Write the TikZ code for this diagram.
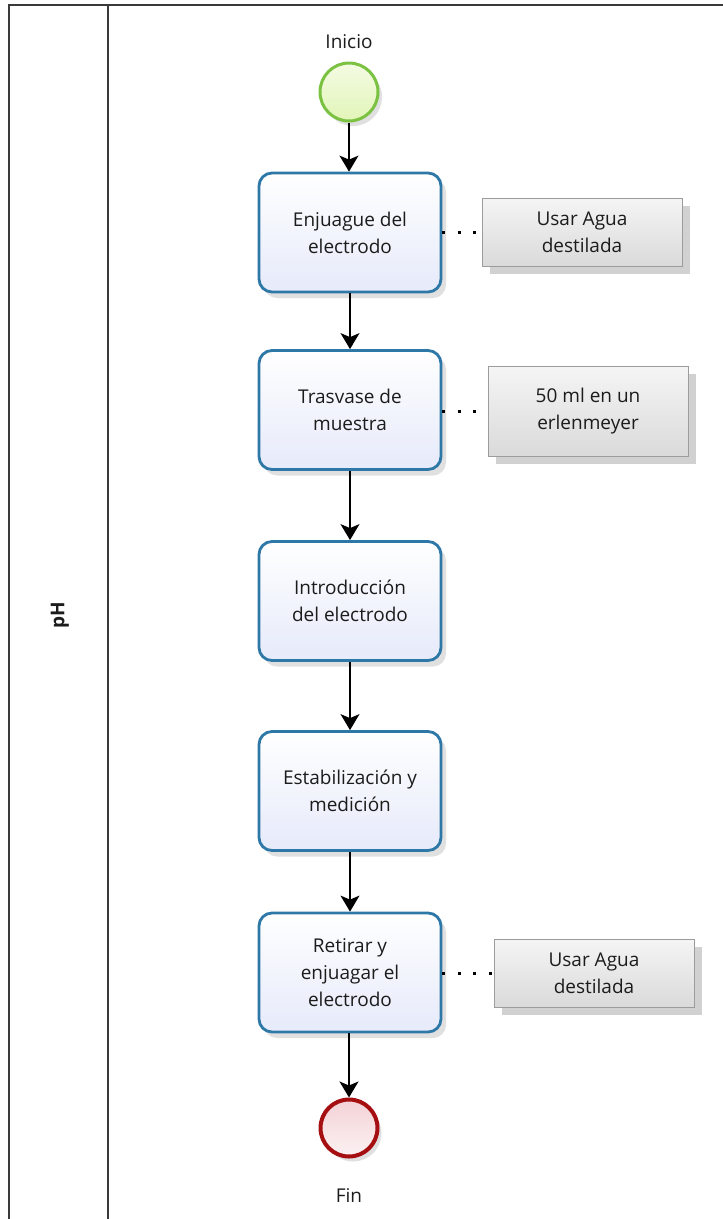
\documentclass[tikz,border=0pt]{standalone}
\usepackage{fontspec}
\setmainfont{Open Sans}
\usetikzlibrary{arrows.meta,shadows}
\definecolor{taskborder}{HTML}{2E78A8}
\definecolor{taskfill}{HTML}{E6EAFA}
\definecolor{startborder}{HTML}{7CC242}
\definecolor{startfill}{HTML}{E2F5B8}
\definecolor{endborder}{HTML}{A50F12}
\definecolor{endfill}{HTML}{F3D2D6}
\definecolor{annborder}{HTML}{9C9C9C}
\definecolor{annfill}{HTML}{DADADA}
\definecolor{framecol}{HTML}{3A3A3A}
\definecolor{txt}{HTML}{1C1C1C}
\begin{document}
\begin{tikzpicture}[x=1pt,y=-1pt,
  every node/.style={text=txt},
  lbl/.style={font=\fontsize{19}{24}\selectfont, inner sep=0pt},
  task/.style={draw=taskborder, line width=2.8pt, rounded corners=13pt,
    minimum width=182pt, minimum height=119pt, align=center,
    top color=white, bottom color=taskfill,
    font=\fontsize{19}{27}\selectfont,
    drop shadow={shadow xshift=5pt, shadow yshift=-6pt, opacity=0.12, fill=black}},
  annot/.style={draw=annborder, line width=0.8pt,
    minimum width=200pt, align=center,
    top color=white!96!black, bottom color=annfill,
    font=\fontsize{19}{27}\selectfont,
    drop shadow={shadow xshift=8pt, shadow yshift=-8pt, opacity=0.18, fill=black}},
  startev/.style={circle, draw=startborder, line width=3pt, minimum size=58pt,
    inner sep=0pt, top color=white!60!startfill, bottom color=startfill,
    drop shadow={shadow xshift=4pt, shadow yshift=-5pt, opacity=0.12, fill=black}},
  endev/.style={circle, draw=endborder, line width=4pt, minimum size=57pt,
    inner sep=0pt, top color=endfill, bottom color=white!70!endfill,
    drop shadow={shadow xshift=4pt, shadow yshift=-5pt, opacity=0.12, fill=black}},
  flow/.style={draw=black, line width=1.6pt,
    -{Stealth[length=16pt, width=19pt, inset=4pt]}},
  assoc/.style={draw=black, line width=3pt, dash pattern=on 3pt off 12.5pt},
  frame/.style={draw=framecol, line width=1.8pt}
]
\useasboundingbox (0,0) rectangle (723,1219);
\fill[white] (0,0) rectangle (723,1219);

% pool / lane frame
\draw[frame] (9,1220) -- (9,5) -- (724,5);
\draw[frame] (108,5) -- (108,1220);
\node[rotate=90, font=\bfseries\fontsize{19}{24}\selectfont] (lane) at (60,615) {pH};

% events
\node[startev] (start) at (349,92) {};
\node[lbl] (startlbl) at (349,42) {Inicio};
\node[endev] (end) at (349,1128) {};
\node[lbl] (endlbl) at (349,1196) {Fin};

% tasks
\node[task] (t1) at (350,232.5) {Enjuague del\\electrodo};
\node[task] (t2) at (350,410) {Trasvase de\\muestra};
\node[task] (t3) at (350,601) {Introducción\\del electrodo};
\node[task] (t4) at (350,791) {Estabilización y\\medición};
\node[task] (t5) at (350,972.5) {Retirar y\\enjuagar el\\electrodo};

% annotations
\node[annot, minimum height=68pt] (a1) at (582,232) {Usar Agua\\destilada};
\node[annot, minimum height=90pt] (a2) at (588,411) {50 ml en un\\erlenmeyer};
\node[annot, minimum height=68pt] (a3) at (594,973) {Usar Agua\\destilada};

% sequence flows
\draw[flow] (start) -- (start |- t1.north);
\draw[flow] (t1) -- (t1 |- t2.north);
\draw[flow] (t2) -- (t2 |- t3.north);
\draw[flow] (t3) -- (t3 |- t4.north);
\draw[flow] (t4) -- (t4 |- t5.north);
\draw[flow] (t5.south -| end) -- (end);

% associations
\draw[assoc] (t1.east |- a1.west) -- (a1.west);
\draw[assoc] (t2.east |- a2.west) -- (a2.west);
\draw[assoc] (t5.east |- a3.west) -- (a3.west);
\end{tikzpicture}
\end{document}
